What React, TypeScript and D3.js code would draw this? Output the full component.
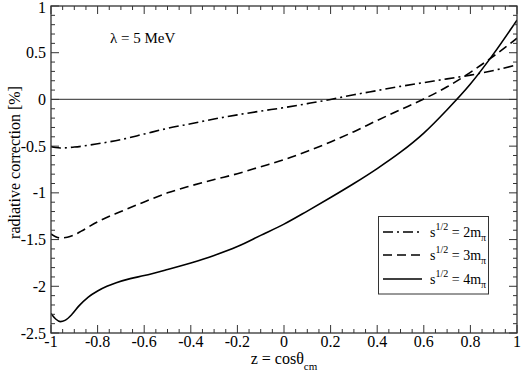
import React from "react";
import * as d3 from "d3";

const zDashDot = [-1, -0.98, -0.96, -0.9, -0.8, -0.7, -0.6, -0.5, -0.4, -0.3, -0.2, -0.1, 0, 0.1, 0.2, 0.3, 0.4, 0.5, 0.6, 0.7, 0.8, 0.9, 1];
const vDashDot = [-0.505, -0.515, -0.52, -0.51, -0.475, -0.43, -0.37, -0.31, -0.26, -0.21, -0.165, -0.125, -0.088, -0.045, 0.0, 0.05, 0.095, 0.14, 0.18, 0.22, 0.26, 0.31, 0.37];

const zDashed = [-1, -0.98, -0.96, -0.93, -0.9, -0.87, -0.8, -0.7, -0.6, -0.5, -0.4, -0.3, -0.2, -0.1, 0, 0.1, 0.2, 0.3, 0.4, 0.5, 0.6, 0.7, 0.8, 0.9, 1];
const vDashed = [-1.44, -1.47, -1.483, -1.475, -1.45, -1.41, -1.31, -1.2, -1.097, -1.0, -0.925, -0.858, -0.795, -0.72, -0.645, -0.555, -0.455, -0.345, -0.225, -0.11, 0.005, 0.135, 0.29, 0.465, 0.655];

const zSolid = [-1, -0.98, -0.96, -0.94, -0.91, -0.88, -0.84, -0.8, -0.76, -0.72, -0.66, -0.6, -0.5, -0.4, -0.3, -0.2, -0.1, 0, 0.1, 0.2, 0.3, 0.4, 0.5, 0.6, 0.7, 0.8, 0.9, 1];
const vSolid = [-2.29, -2.35, -2.378, -2.365, -2.3, -2.21, -2.115, -2.05, -2.0, -1.962, -1.918, -1.885, -1.82, -1.75, -1.67, -1.575, -1.455, -1.335, -1.195, -1.05, -0.9, -0.74, -0.565, -0.36, -0.11, 0.165, 0.49, 0.85];

const xTicks = [-1, -0.8, -0.6, -0.4, -0.2, 0, 0.2, 0.4, 0.6, 0.8, 1];
const xTickLabels = ["-1", "-0.8", "-0.6", "-0.4", "-0.2", "0", "0.2", "0.4", "0.6", "0.8", "1"];
const yTicks = [-2.5, -2, -1.5, -1, -0.5, 0, 0.5, 1];
const yTickLabels = ["-2.5", "-2", "-1.5", "-1", "-0.5", "0", "0.5", "1"];

const legendLabels = ["2m", "3m", "4m"];

const W = 524, H = 375;
const L = 51, R = 517, T = 6, B = 333;
const FONT = '"Liberation Serif", "DejaVu Serif", serif';

export default function App() {
  const x = d3.scaleLinear().domain([-1, 1]).range([L, R]);
  const y = d3.scaleLinear().domain([-2.5, 1]).range([B, T]);
  const line = d3.line<[number, number]>().x(d => x(d[0])).y(d => y(d[1])).curve(d3.curveMonotoneX);

  const series = [
    { z: zDashDot, v: vDashDot, dash: "10,4,2,4" },
    { z: zDashed, v: vDashed, dash: "9,5" },
    { z: zSolid, v: vSolid, dash: "none" },
  ];

  const xMinor = d3.range(-1, 1.0001, 0.05).map(v => +v.toFixed(2));
  const yMinor = d3.range(-2.5, 1.0001, 0.1).map(v => +v.toFixed(2));
  const isMajX = (v: number) => Math.abs(v * 5 - Math.round(v * 5)) < 1e-6;
  const isMajY = (v: number) => Math.abs(v * 2 - Math.round(v * 2)) < 1e-6;

  const legRows = [232, 255, 279];
  const ts = { fontFamily: FONT } as React.CSSProperties;

  return (
    <svg width={W} height={H} style={{ position: "absolute", left: 0, top: 0, background: "#fff", fontFamily: FONT }}>
      <rect x={0} y={0} width={W} height={H} fill="#fff" />
      <defs>
        <clipPath id="clip"><rect x={L} y={T} width={R - L} height={B - T} /></clipPath>
      </defs>
      <line x1={L} x2={R} y1={y(0)} y2={y(0)} stroke="#555" strokeWidth={1.2} />
      <g clipPath="url(#clip)">
        {series.map((s, i) => (
          <path key={i} d={line(s.z.map((z, j) => [z, s.v[j]] as [number, number])) || ""} fill="none" stroke="#000" strokeWidth={1.6} strokeDasharray={s.dash} />
        ))}
      </g>
      {xMinor.map((v, i) => {
        const len = isMajX(v) ? 8 : 4;
        return (
          <g key={"xt" + i} stroke="#333" strokeWidth={1}>
            <line x1={x(v)} x2={x(v)} y1={B} y2={B - len} />
            <line x1={x(v)} x2={x(v)} y1={T} y2={T + len} />
          </g>
        );
      })}
      {yMinor.map((v, i) => {
        const len = isMajY(v) ? 8 : 4;
        return (
          <g key={"yt" + i} stroke="#333" strokeWidth={1}>
            <line x1={L} x2={L + len} y1={y(v)} y2={y(v)} />
            <line x1={R} x2={R - len} y1={y(v)} y2={y(v)} />
          </g>
        );
      })}
      <rect x={L} y={T} width={R - L} height={B - T} fill="none" stroke="#333" strokeWidth={1.3} />
      {xTicks.map((v, i) => (
        <text key={"xl" + i} style={ts} x={x(v)} y={B + 14} textAnchor="middle" fontSize={16} fill="#000">{xTickLabels[i]}</text>
      ))}
      {yTicks.map((v, i) => (
        <text key={"yl" + i} style={ts} x={L - 5} y={Math.max(y(v) + 5.5, 13)} textAnchor="end" fontSize={16} fill="#000">{yTickLabels[i]}</text>
      ))}
      <text style={ts} x={(L + R) / 2} y={364} textAnchor="middle" fontSize={16} fill="#000">
        z = cosθ<tspan fontSize={11} dy={6}>cm</tspan>
      </text>
      <text style={ts} transform={`translate(20,${(T + B) / 2 - 7}) rotate(-90)`} textAnchor="middle" fontSize={16} fill="#000">radiative correction [%]</text>
      <text style={ts} x={110} y={43} fontSize={15} fill="#000">λ = 5 MeV</text>
      <rect x={378.5} y={216.5} width={110} height={77.5} fill="#fff" stroke="#333" strokeWidth={1} />
      {legRows.map((ry, i) => (
        <g key={"lg" + i}>
          <line x1={383} x2={422} y1={ry} y2={ry} stroke="#000" strokeWidth={1.6} strokeDasharray={series[i].dash} />
          <text style={ts} x={430} y={ry + 5} fontSize={14} fill="#000">
            s<tspan fontSize={10} dy={-7}>1/2</tspan><tspan dy={7}> = {legendLabels[i]}</tspan><tspan fontSize={10} dy={4}>π</tspan>
          </text>
        </g>
      ))}
    </svg>
  );
}
